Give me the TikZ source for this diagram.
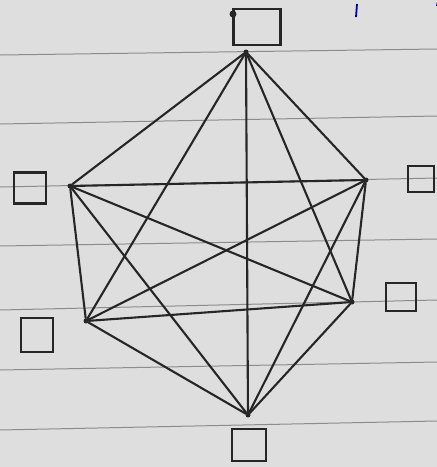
\documentclass[tikz,border=0pt]{standalone}
\begin{document}
\begin{tikzpicture}[x=1pt,y=-1pt,
  vtx/.style={circle,fill=black!85,inner sep=0pt,minimum size=5pt},
  edge/.style={draw=black!85,line width=2.1pt,line cap=round},
  box/.style={draw=black!85,line width=2.4pt,rectangle,inner sep=0pt},
  rule/.style={draw=black!45,line width=1pt}]
\useasboundingbox (0,0) rectangle (437,467);
\fill[black!13] (0,0) rectangle (437,467);
% ruled notebook lines
\foreach \yl/\yr in {55/49, 124/116, 187/178, 246/239, 310/300, 370/362, 430/421}
  \draw[rule] (0,\yl) -- (437,\yr);
% blue marks at top right
\draw[blue!60!black,line width=1.8pt] (357,4) -- (356,17);
\draw[blue!60!black,line width=1.8pt] (437,6) arc (180:220:8);
% vertices
\node[vtx] (t)  at (246,52) {};
\node[vtx] (lu) at (70,186) {};
\node[vtx] (ru) at (366,180) {};
\node[vtx] (rl) at (352,302) {};
\node[vtx] (ll) at (86,321) {};
\node[vtx] (b)  at (248,415) {};
% edges (complete graph)
\foreach \a/\c in {t/lu,t/ru,t/rl,t/ll,t/b,lu/ru,lu/rl,lu/ll,lu/b,ru/rl,ru/ll,ru/b,rl/ll,rl/b,ll/b}
  \draw[edge] (\a) -- (\c);
% small squares
\node[box,minimum width=47pt,minimum height=36pt] (st) at (257,27) {};
\fill[black!85] (233,14) circle (3.5pt);
\node[box,minimum width=32pt,minimum height=31pt] (sl) at (30,188) {};
\node[box,minimum width=26pt,minimum height=26pt] (sr) at (421,179) {};
\node[box,minimum width=30pt,minimum height=28pt] (srl) at (401,297) {};
\node[box,minimum width=32pt,minimum height=34pt] (sll) at (37,335) {};
\node[box,minimum width=34pt,minimum height=32pt] (sb) at (249,445) {};
\end{tikzpicture}
\end{document}
